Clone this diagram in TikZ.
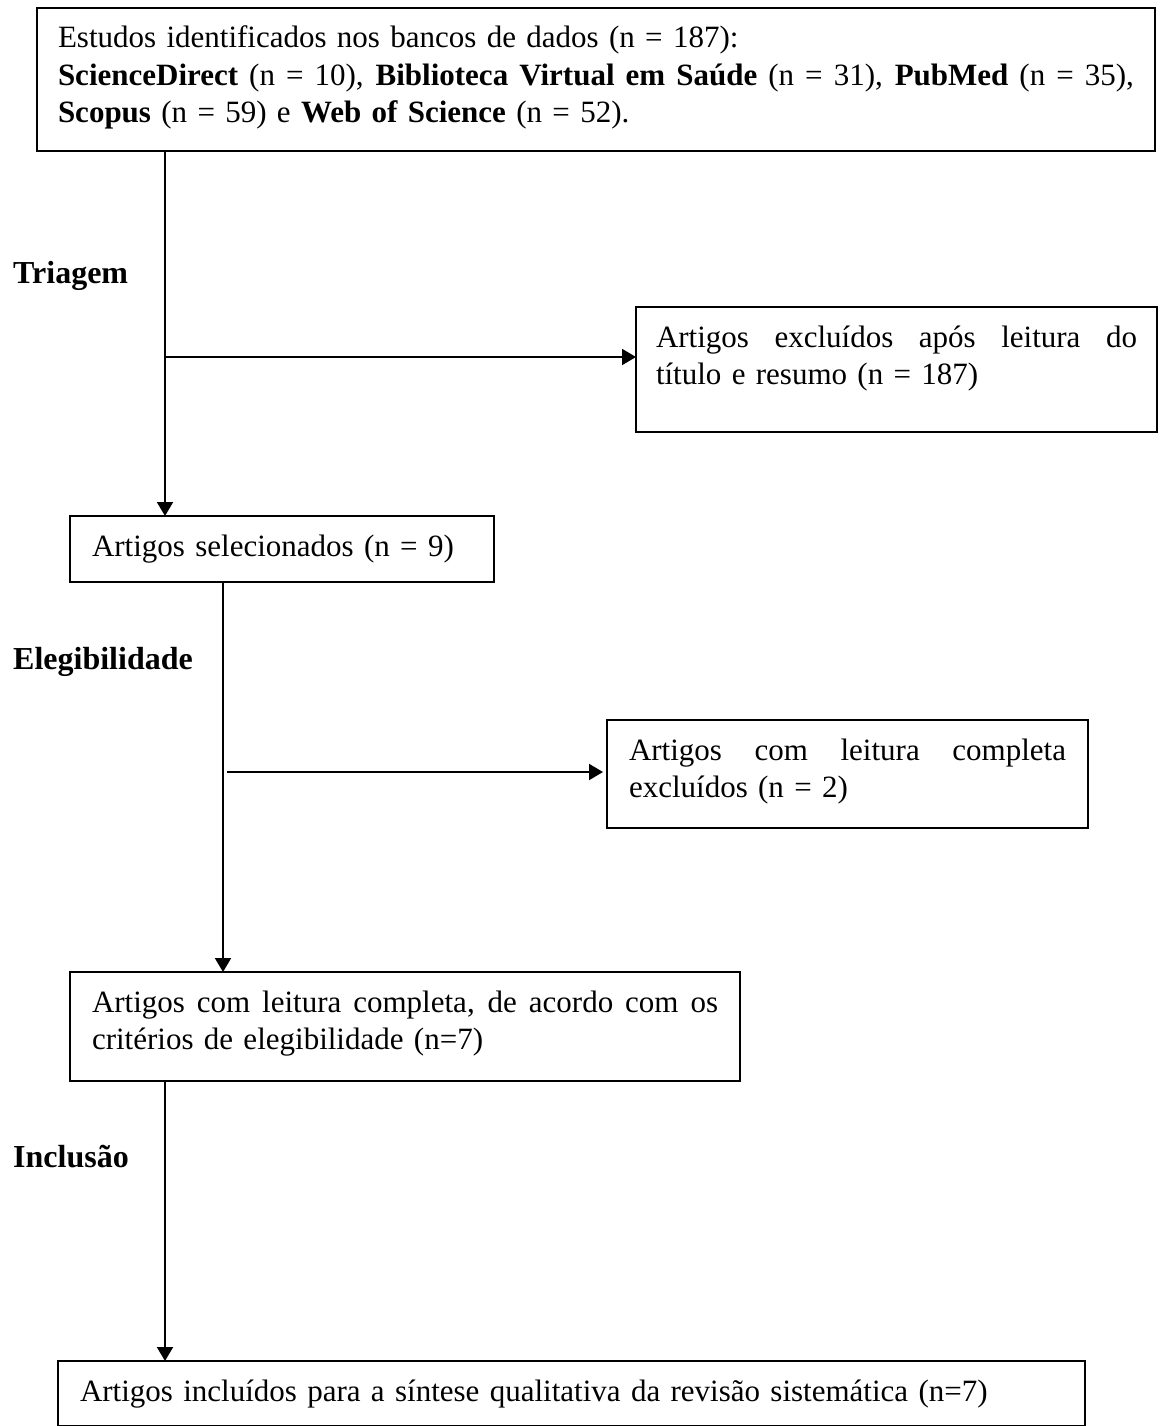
\documentclass[tikz,border=0pt]{standalone}
\usepackage{fontspec}
\setmainfont{Liberation Serif}
\usetikzlibrary{arrows.meta}
\newcommand{\fundo}[1]{\rule[-#1]{0pt}{#1}}
\newcommand{\linhajust}[2]{\hbox to #1{\spaceskip=0.25em plus 1fil\relax #2}}

\begin{document}
\begin{tikzpicture}[x=1pt,y=-1pt,
    caixa/.style={draw,line width=2pt,anchor=north west,outer sep=0pt,
      inner ysep=13.75pt,align=left,font=\fontsize{31}{37.5}\selectfont},
    rotulo/.style={anchor=base west,inner sep=0pt,font=\fontsize{32}{37.5}\selectfont\bfseries},
    seta/.style={line width=2pt,-{Triangle[length=14pt,width=16pt]}}]
  \useasboundingbox (0,0) rectangle (1163,1426);

  \node[caixa,inner xsep=21pt,text width=1076pt] (ident) at (37,8)
    {\strut Estudos identificados nos bancos de dados (n = 187):\\
     \leavevmode\linhajust{1076pt}{\textbf{ScienceDirect} (n = 10), \textbf{Biblioteca Virtual em Saúde} (n = 31), \textbf{PubMed} (n = 35),}\\
     \textbf{Scopus} (n = 59) e \textbf{Web of Science} (n = 52).\fundo{14.25pt}};
  \node[caixa,inner xsep=20pt,text width=481pt] (excl1) at (636,307)
    {\strut\linhajust{481pt}{Artigos excluídos após leitura do}\\
     título e resumo (n = 187)\fundo{33.75pt}};
  \node[caixa,inner xsep=22pt,text width=380pt] (sel) at (70,516)
    {\strut Artigos selecionados (n = 9)\fundo{12.25pt}};
  \node[caixa,inner xsep=22pt,text width=437pt] (excl2) at (607,720)
    {\strut\linhajust{437pt}{Artigos com leitura completa}\\
     excluídos (n = 2)\fundo{16.75pt}};
  \node[caixa,inner xsep=22pt,text width=626pt] (eleg) at (70,972)
    {\strut\linhajust{626pt}{Artigos com leitura completa, de acordo com os}\\
     critérios de elegibilidade (n=7)\fundo{17.75pt}};
  \node[caixa,inner xsep=22pt,text width=983pt] (incl) at (58,1361)
    {\strut Artigos incluídos para a síntese qualitativa da revisão sistemática (n=7)};

  \node[rotulo] (triagem) at (13,283) {Triagem};
  \node[rotulo] (elegib) at (13,669) {Elegibilidade};
  \node[rotulo] (inclusao) at (13,1167) {Inclusão};

  \coordinate (r1) at (165,357);
  \coordinate (r2) at (223,772);
  \draw[seta] (ident.south -| r1) -- (sel.north -| r1);
  \draw[seta] (r1) -- (excl1.west |- r1);
  \draw[seta] (sel.south -| r2) -- (eleg.north -| r2);
  \draw[seta,shorten >=4pt] ([xshift=4pt]r2) -- (excl2.west |- r2);
  \draw[seta] (eleg.south -| r1) -- (incl.north -| r1);
\end{tikzpicture}
\end{document}
